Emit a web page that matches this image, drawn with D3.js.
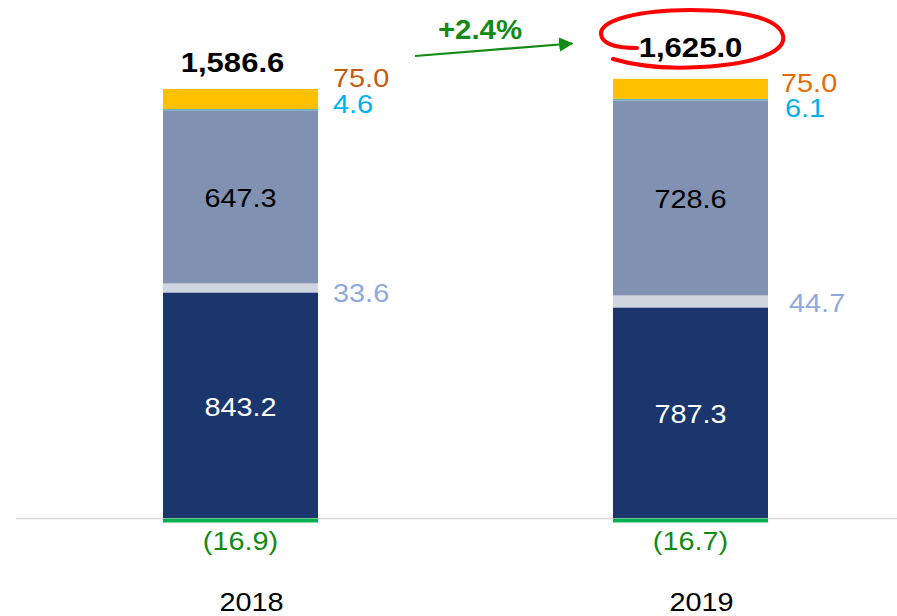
<!DOCTYPE html>
<html>
<head>
<meta charset="utf-8">
<script src="https://cdn.jsdelivr.net/npm/d3@7"></script>
<style>
  html, body { margin: 0; padding: 0; background: #fff; }
  svg { display: block; font-family: Arial, "Liberation Sans", sans-serif; }
</style>
</head>
<body>
<svg id="chart" width="897" height="616"></svg>
<script>
const years = ["2018", "2019"];
const totals = ["1,586.6", "1,625.0"];
const growth = "+2.4%";

// stacked from the baseline upward
const series = ["core", "other", "mid", "small", "cap"];
const core = [843.2, 787.3];
const other = [33.6, 44.7];
const mid = [647.3, 728.6];
const small = [4.6, 6.1];
const cap = [75.0, 75.0];
const negative = [-16.9, -16.7];

const values = { core, other, mid, small, cap };
const fills = {
  core: "#1B356D",
  other: "#D0D6E0",
  mid: "#8091B1",
  small: "#62ADCA",
  cap: "#FFC000"
};

const width = 897, height = 616;
const barWidth = 155;
const stretch = 1.09; // text in the source looks a bit wide

const svg = d3.select("#chart");

const x = d3.scalePoint().domain(years).range([240.5, 690.5]);
const y = d3.scaleLinear().domain([0, 1700]).range([518, 518 - 1700 * 0.2675]);

// build stacks
const rows = years.map((yr, i) => {
  const r = { year: yr };
  series.forEach(s => (r[s] = values[s][i]));
  return r;
});
const stack = d3.stack().keys(series)(rows);

// baseline
svg.append("line")
  .attr("x1", 16).attr("x2", width)
  .attr("y1", y(0) + 0.5).attr("y2", y(0) + 0.5)
  .attr("stroke", "#D9D9D9")
  .attr("stroke-width", 1.5);

svg.append("g")
  .selectAll("g")
  .data(stack)
  .join("g")
  .attr("fill", d => fills[d.key])
  .selectAll("rect")
  .data(d => d)
  .join("rect")
  .attr("x", d => x(d.data.year) - barWidth / 2)
  .attr("width", barWidth)
  .attr("y", d => y(d[1]))
  .attr("height", d => Math.max(1.5, y(d[0]) - y(d[1])));

// negative part below the baseline
svg.append("g")
  .selectAll("rect")
  .data(years)
  .join("rect")
  .attr("x", d => x(d) - barWidth / 2)
  .attr("width", barWidth)
  .attr("y", y(0) + 0.5)
  .attr("height", (d, i) => y(negative[i]) - y(0) - 0.5)
  .attr("fill", "#00B050");

function label(px, py, txt, opts) {
  const o = Object.assign({ size: 26.5, color: "#000", weight: "normal", anchor: "middle" }, opts);
  svg.append("text")
    .attr("transform", `translate(${px},${py}) scale(${stretch},1)`)
    .attr("text-anchor", o.anchor)
    .attr("font-size", o.size)
    .attr("font-weight", o.weight)
    .attr("fill", o.color)
    .text(txt);
}

const fmt = d3.format(".1f");
const segMid = (s, i) => {
  const d = stack[series.indexOf(s)][i];
  return (y(d[0]) + y(d[1])) / 2;
};

// label nudges (layout only)
const rightDx = { cap: [15, 13], small: [15, 17], other: [15, 21] };
const rightDy = { cap: [-12, 3], small: [3.5, 17], other: [14, 10.5] };
const rightColor = { cap: ["#C55A11", "#E36C0A"], small: ["#00B0F0", "#00B0F0"], other: ["#8FAADC", "#8FAADC"] };
const totalDy = [-17, -22];
const totalDx = [-8, 0];
const yearDx = [11, 11];

years.forEach((yr, i) => {
  const cx = x(yr);
  const right = cx + barWidth / 2;

  label(cx, segMid("mid", i) + 10.5, fmt(mid[i]), { color: "#000" });
  label(cx, segMid("core", i) + 10.5, fmt(core[i]), { color: "#fff" });

  ["cap", "small", "other"].forEach(s => {
    label(right + rightDx[s][i], segMid(s, i) + rightDy[s][i], fmt(values[s][i]),
      { anchor: "start", color: rightColor[s][i] });
  });

  label(cx, y(0) + 32, `(${fmt(-negative[i])})`, { color: "#138A13" });
  label(cx + yearDx[i], 611, yr, { color: "#000" });

  const topY = y(stack[stack.length - 1][i][1]);
  label(cx + totalDx[i], topY + totalDy[i], totals[i], { size: 28.5, weight: "bold" });
});

// growth arrow
svg.append("defs").append("marker")
  .attr("id", "head")
  .attr("viewBox", "0 0 10 10")
  .attr("refX", 9).attr("refY", 5)
  .attr("markerWidth", 6.5).attr("markerHeight", 6.5)
  .attr("orient", "auto")
  .append("path")
  .attr("d", "M0,0 L10,5 L0,10 Z")
  .attr("fill", "#138A13");

svg.append("line")
  .attr("x1", 415).attr("y1", 56)
  .attr("x2", 572).attr("y2", 43.5)
  .attr("stroke", "#138A13")
  .attr("stroke-width", 2.2)
  .attr("marker-end", "url(#head)");

label(480, 39, growth, { size: 27, weight: "bold", color: "#138A13" });

// hand-drawn circle round the 2019 total
svg.append("path")
  .attr("d", "M613,59 Q650,70 700,67 C760,64 786,50 783,36 C780,18 740,10 690,10 C640,10 600,20 601,34 C602,45 618,48 637,48")
  .attr("fill", "none")
  .attr("stroke", "#FF0000")
  .attr("stroke-width", 4)
  .attr("stroke-linecap", "round");
</script>
</body>
</html>
